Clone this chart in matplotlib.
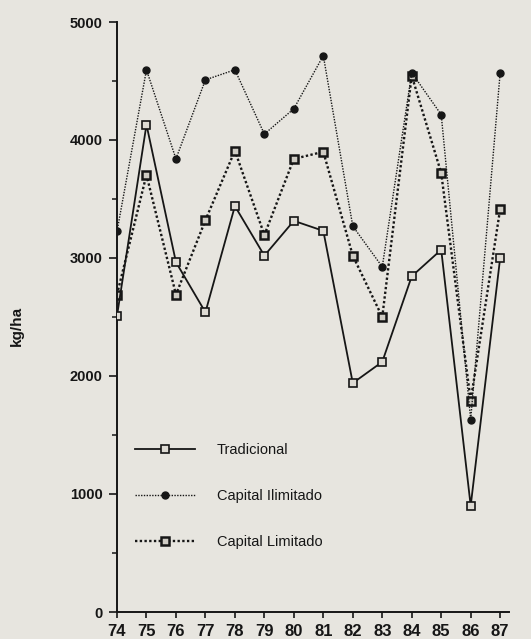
import matplotlib.pyplot as plt
from matplotlib.ticker import MultipleLocator

# data (kg/ha per year)
years = [74, 75, 76, 77, 78, 79, 80, 81, 82, 83, 84, 85, 86, 87]
tradicional = [2510, 4130, 2965, 2540, 3440, 3020, 3315, 3230, 1940, 2120, 2845, 3070, 900, 3000]
capital_ilimitado = [3225, 4595, 3840, 4510, 4595, 4050, 4265, 4715, 3270, 2925, 4570, 4215, 1630, 4570]
capital_limitado = [2690, 3705, 2690, 3320, 3910, 3195, 3840, 3900, 3020, 2500, 4545, 3720, 1790, 3415]
year_labels = [str(y) for y in years]

BG = '#e7e5df'
INK = '#161616'

plt.rcParams['font.family'] = ['Liberation Sans', 'DejaVu Sans']

fig = plt.figure(figsize=(5.31, 6.39), dpi=100)
fig.patch.set_facecolor(BG)
ax = fig.add_axes([117 / 531, 1 - 612 / 639, (509 - 117) / 531, (612 - 22) / 639])
ax.set_facecolor(BG)

ax.plot(years, tradicional, color=INK, lw=1.3, ls='-',
        marker='s', ms=5.5, mfc='#dedbd4', mec=INK, mew=1.2,
        label='Tradicional', zorder=3)
ax.plot(years, capital_ilimitado, color=INK, lw=1.0, ls=(0, (1, 1)),
        marker='o', ms=5, mfc=INK, mec=INK,
        label='Capital Ilimitado', zorder=4)
ax.plot(years, capital_limitado, color=INK, lw=1.7, ls=(0, (1, 1)),
        marker='s', ms=5.5, mfc='#cfccc4', mec=INK, mew=1.8,
        label='Capital Limitado', zorder=2)

ax.set_xlim(74, 87.3)
ax.set_ylim(0, 5000)
ax.set_xticks(years)
ax.set_xticklabels(year_labels, fontweight='bold')
ax.yaxis.set_major_locator(MultipleLocator(1000))
ax.yaxis.set_minor_locator(MultipleLocator(500))
for t in ax.get_yticklabels():
    t.set_fontweight('bold')

for side in ['top', 'right']:
    ax.spines[side].set_visible(False)
for side in ['left', 'bottom']:
    ax.spines[side].set_color(INK)
    ax.spines[side].set_linewidth(1.4)

ax.tick_params(axis='y', which='major', direction='out', length=5.5, width=1.2,
               color=INK, labelsize=10.5, labelcolor=INK, pad=5)
ax.tick_params(axis='y', which='minor', direction='out', length=3.5, width=1.1, color=INK)
ax.tick_params(axis='x', which='major', direction='out', length=4, width=1.2,
               color=INK, labelsize=12, labelcolor=INK, pad=4.5)

ax.set_ylabel('kg/ha', fontsize=11, fontweight='bold', color=INK)
ax.yaxis.set_label_coords(-(117 - 24) / 392, 1 - (326 - 22) / 590)

leg = ax.legend(loc='upper left', bbox_to_anchor=(135 / 531, 1 - 443 / 639),
                bbox_transform=fig.transFigure, frameon=False, fontsize=10.5,
                handlelength=4.1, handletextpad=1.5, labelspacing=2.2,
                borderpad=0, borderaxespad=0, numpoints=1)
for t in leg.get_texts():
    t.set_color(INK)

fig.savefig('out.png', dpi=100, facecolor=BG)
